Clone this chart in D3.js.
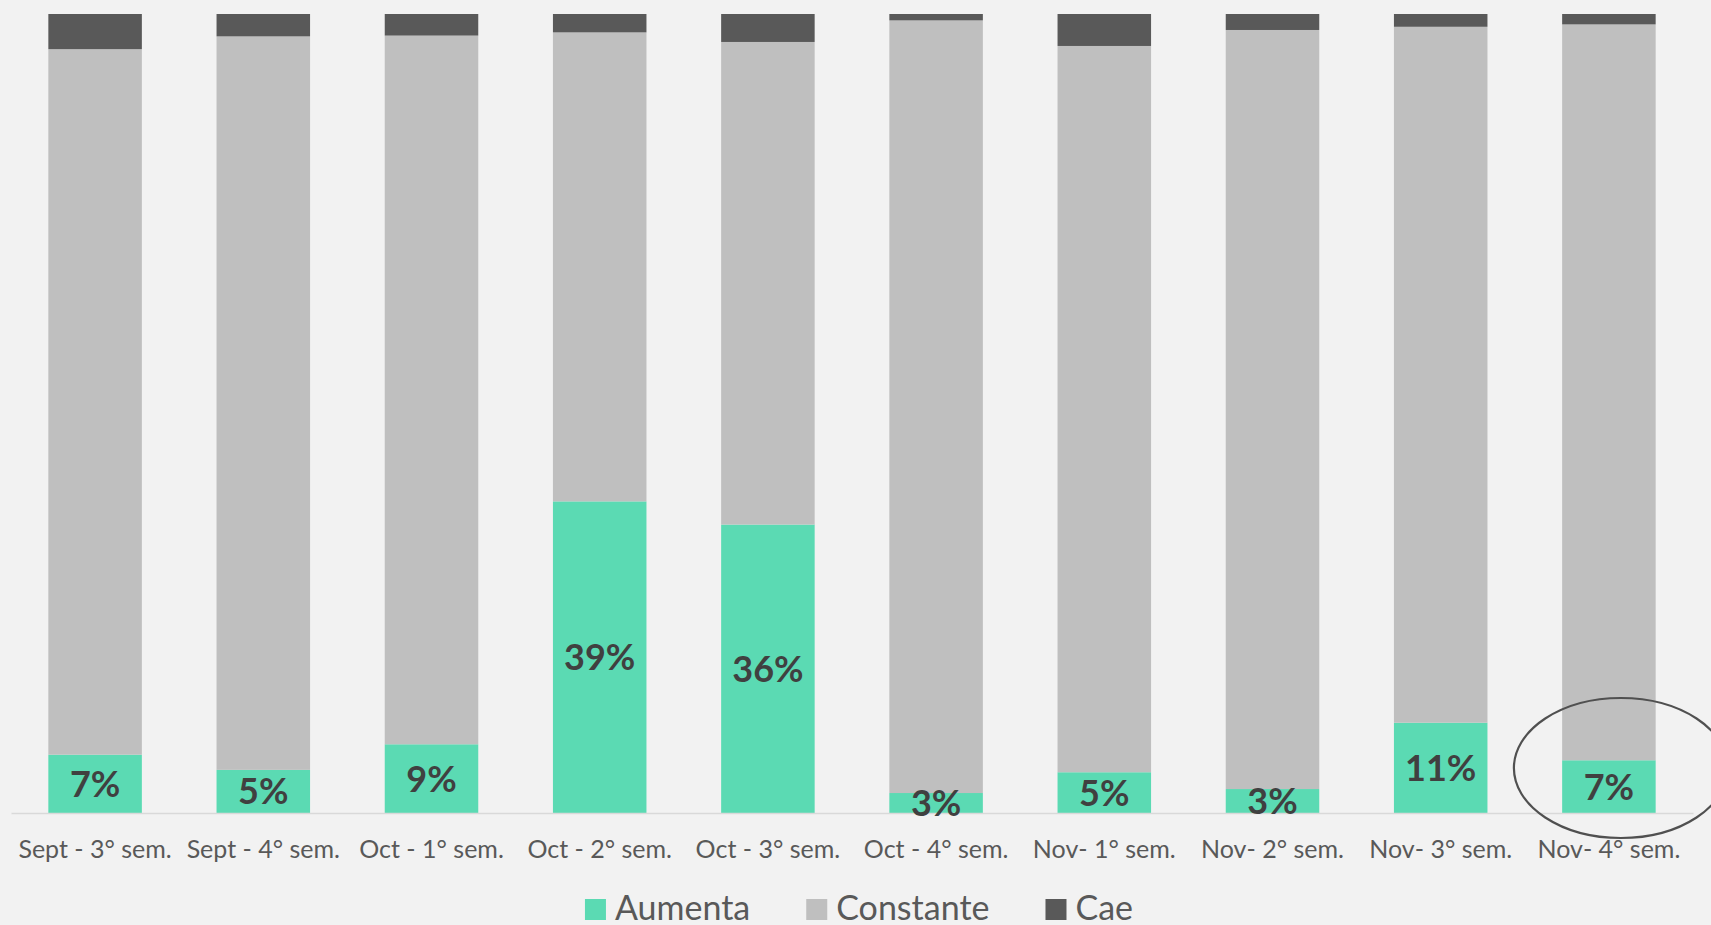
<!DOCTYPE html>
<html>
<head>
<meta charset="utf-8">
<script src="https://cdn.jsdelivr.net/npm/d3@7"></script>
<style>
  html, body { margin: 0; padding: 0; background: #f2f2f2; overflow: hidden; }
  svg { display: block; }
</style>
</head>
<body>
<svg id="chart" width="1711" height="925"></svg>
<script>
// Data (percent of answers per week)
const categories = ['Sept - 3° sem.', 'Sept - 4° sem.', 'Oct - 1° sem.', 'Oct - 2° sem.', 'Oct - 3° sem.',
    'Oct - 4° sem.', 'Nov- 1° sem.', 'Nov- 2° sem.', 'Nov- 3° sem.', 'Nov- 4° sem.'];
const aumenta = [7.3, 5.4, 8.6, 39.0, 36.1, 2.5, 5.1, 3.0, 11.3, 6.6];
const cae = [4.4, 2.8, 2.7, 2.3, 3.5, 0.8, 4.0, 2.0, 1.6, 1.3];
const constante = aumenta.map((a, i) => 100 - a - cae[i]);
const seriesNames = ['Aumenta', 'Constante', 'Cae'];
const colors = ['#5bdab3', '#bfbfbf', '#595959'];

const svg = d3.select('#chart');

const x = d3.scaleBand()
    .domain(categories)
    .range([11, 1693])
    .paddingInner(0.444)
    .paddingOuter(0.222);

const y = d3.scaleLinear()
    .domain([0, 100])
    .range([813, 14]);

const rows = categories.map((c, i) => ({
    cat: c, Aumenta: aumenta[i], Constante: constante[i], Cae: cae[i]
}));
const stacked = d3.stack().keys(seriesNames)(rows);

// bars
svg.append('g')
    .selectAll('g')
    .data(stacked)
    .join('g')
    .attr('fill', (d, i) => colors[i])
    .selectAll('rect')
    .data(d => d)
    .join('rect')
    .attr('x', d => x(d.data.cat))
    .attr('y', d => y(d[1]))
    .attr('width', x.bandwidth())
    .attr('height', d => y(d[0]) - y(d[1]));

// baseline axis
const axis = svg.append('g')
    .attr('transform', `translate(0,${y(0)})`)
    .call(d3.axisBottom(x).tickSize(0).tickPadding(45));
axis.select('.domain').attr('stroke', '#d9d9d9').attr('stroke-width', 1.5);
axis.selectAll('text')
    .attr('fill', '#595959')
    .attr('font-family', 'Lato, "Open Sans", sans-serif')
    .attr('font-size', 25)
    .attr('dy', 0);

// value labels in the Aumenta segment
svg.append('g')
    .selectAll('text')
    .data(stacked[0])
    .join('text')
    .attr('x', d => x(d.data.cat) + x.bandwidth() / 2)
    .attr('y', d => (y(d[0]) + y(d[1])) / 2)
    .attr('dy', '0.36em')
    .attr('text-anchor', 'middle')
    .attr('fill', '#404040')
    .attr('font-family', 'Lato, "Open Sans", sans-serif')
    .attr('font-weight', 700)
    .attr('font-size', 36)
    .text(d => Math.round(d.data.Aumenta) + '%');

// highlight ellipse around the last week
const last = categories[categories.length - 1];
svg.append('ellipse')
    .attr('cx', x(last) + x.bandwidth() / 2 + 12)
    .attr('cy', y(0) - 45)
    .attr('rx', 107)
    .attr('ry', 70)
    .attr('fill', 'none')
    .attr('stroke', '#505050')
    .attr('stroke-width', 2.2);

// legend
const legend = svg.append('g');
let lx = 0;
seriesNames.forEach((name, i) => {
    const item = legend.append('g').attr('transform', `translate(${lx},0)`);
    item.append('rect')
        .attr('x', 0).attr('y', -21)
        .attr('width', 21).attr('height', 21)
        .attr('fill', colors[i]);
    const t = item.append('text')
        .attr('x', 30).attr('y', 0)
        .attr('fill', '#595959')
        .attr('font-family', 'Lato, "Open Sans", sans-serif')
        .attr('font-size', 34)
        .text(name);
    lx += 30 + t.node().getComputedTextLength() + 56;
});
const legendW = lx - 56;
legend.attr('transform', `translate(${(11 + 1693) / 2 - legendW / 2 + 7},920)`);
</script>
</body>
</html>
